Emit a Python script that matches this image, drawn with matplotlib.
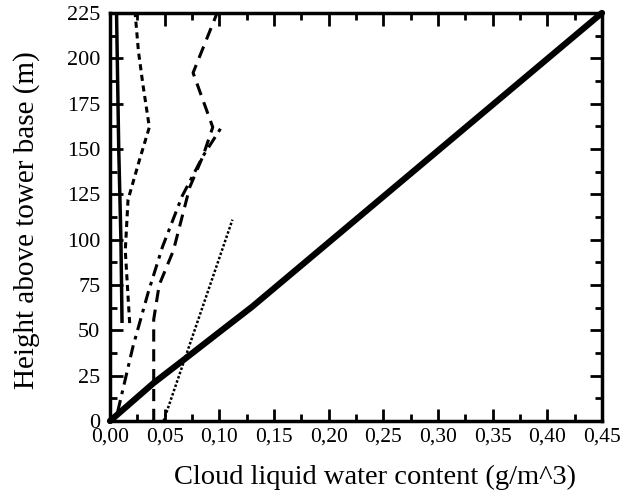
"""Cloud liquid water content profiles vs. height above tower base."""

import matplotlib
matplotlib.use("Agg")
import matplotlib.pyplot as plt
from matplotlib.ticker import MultipleLocator, FuncFormatter

plt.rcParams["font.family"] = ["Liberation Serif", "DejaVu Serif"]

# profiles: (lwc g/m^3, height m)
thick_x = [0.000, 0.040, 0.068, 0.100, 0.130, 0.450]
thick_y = [0, 21, 34, 49, 63, 225]

thin_x = [0.011, 0.010, 0.008, 0.006]
thin_y = [55, 100, 150, 225]

fine_dash_x = [0.018, 0.014, 0.0165, 0.027, 0.036, 0.030, 0.026, 0.023]
fine_dash_y = [54, 94, 122, 144, 162, 186, 204, 225]

dashdot_x = [0.007, 0.021, 0.035, 0.048, 0.066, 0.085, 0.103]
dashdot_y = [5, 41, 71, 96, 124, 146, 163]

dash_x = [0.040, 0.040, 0.045, 0.058, 0.073, 0.085, 0.094, 0.076, 0.098]
dash_y = [0, 56, 75, 94, 129, 146, 162, 192, 225]

dot_x = [0.049, 0.112]
dot_y = [0, 111]

fig = plt.figure(figsize=(6.35, 4.98), dpi=100)
ax = fig.add_axes([0.1732, 0.1546, 0.7748, 0.8194])

ax.plot(thick_x, thick_y, color="black", lw=4.5, solid_capstyle="round",
        solid_joinstyle="round", clip_on=False)
ax.plot(thin_x, thin_y, color="black", lw=2.5)
ax.plot(fine_dash_x, fine_dash_y, color="black", lw=2.2, ls=(0, (2, 1.5)))
ax.plot(dashdot_x, dashdot_y, color="black", lw=2.2, ls=(0, (4, 2, 1.2, 2)))
ax.plot(dash_x, dash_y, color="black", lw=2.2, ls=(0, (4, 2.5)), clip_on=False)
ax.plot(dot_x, dot_y, color="black", lw=1.8, ls=(0, (1, 0.8)))

ax.set_xlim(0, 0.45)
ax.set_ylim(0, 225)
ax.xaxis.set_major_locator(MultipleLocator(0.05))
ax.xaxis.set_minor_locator(MultipleLocator(0.025))
ax.yaxis.set_major_locator(MultipleLocator(25))
ax.yaxis.set_minor_locator(MultipleLocator(12.5))
ax.xaxis.set_major_formatter(FuncFormatter(lambda v, p: f"{v:.2f}".replace(".", ",")))

for s in ax.spines.values():
    s.set_linewidth(2.5)
ax.tick_params(which="both", direction="in", top=True, right=True, width=2)
ax.tick_params(which="major", length=9)
ax.tick_params(which="minor", length=5)
ax.tick_params(axis="x", labelsize=15.5, pad=5)
ax.tick_params(axis="y", labelsize=16, pad=7)

ax.set_xlabel("Cloud liquid water content (g/m^3)", fontsize=20.5)
ax.set_ylabel("Height above tower base (m)", fontsize=21)
ax.xaxis.set_label_coords(0.539, -0.108)
ax.yaxis.set_label_coords(-0.143, 0.493)

fig.savefig("out.png", dpi=100)
